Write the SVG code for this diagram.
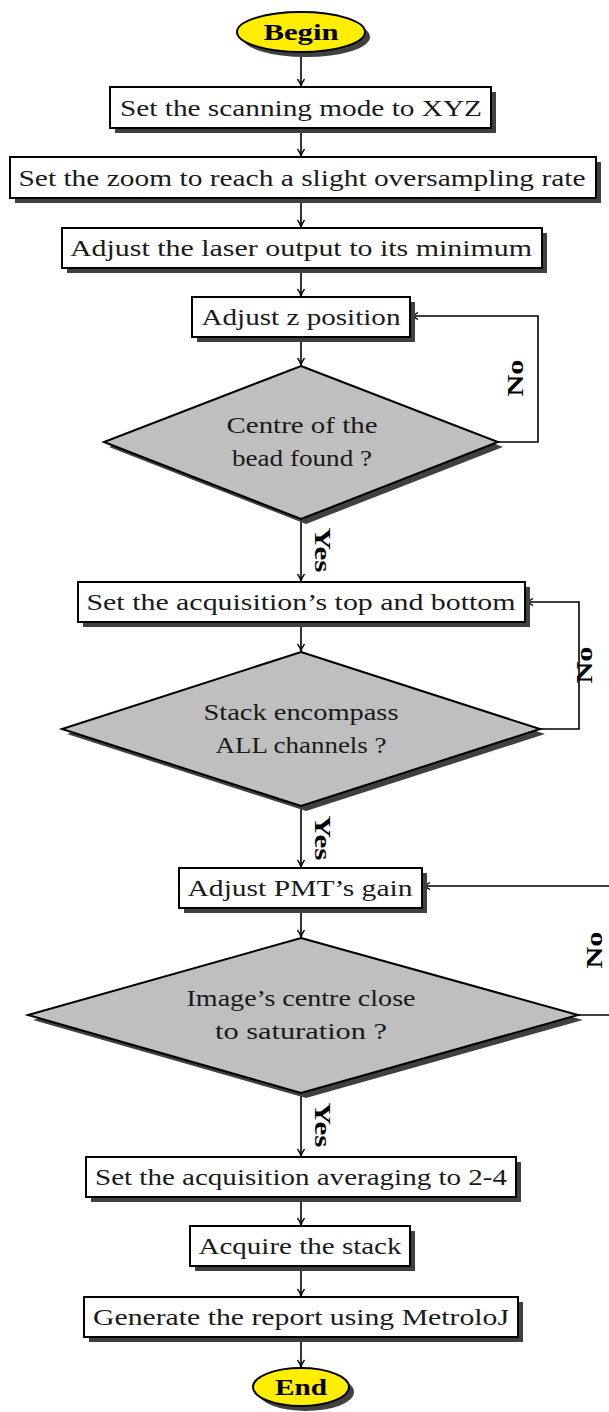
<svg xmlns="http://www.w3.org/2000/svg" width="609" height="1412" viewBox="0 0 609 1412">
<defs>
<marker id="arr" viewBox="-9 -5 10 10" refX="0" refY="0" markerWidth="10" markerHeight="10" markerUnits="userSpaceOnUse" orient="auto">
<path d="M -7 -3.5 Q -3 -0.6 0 0 Q -3 0.6 -7 3.5" fill="none" stroke="#000" stroke-width="1.3"/>
</marker>
</defs>
<style>
.box{fill:#fff;stroke:#000;stroke-width:2}
.sh{fill:#404040}
.dia{fill:#bfbfbf;stroke:#000;stroke-width:2}
.ell{fill:#ffee00;stroke:#000;stroke-width:2}
.t{font-family:"Liberation Serif",serif;font-size:24px;fill:#1a1a1a;text-anchor:middle}
.b{font-family:"Liberation Serif",serif;font-size:24px;font-weight:bold;fill:#000;text-anchor:middle}
.c{fill:none;stroke:#000;stroke-width:1.6;marker-end:url(#arr)}
.l{fill:none;stroke:#000;stroke-width:1.6}
</style>
<rect width="609" height="1412" fill="#fff"/>

<g id="connectors">
<line class="c" x1="301" y1="52" x2="301" y2="86"/>
<line class="c" x1="301" y1="128" x2="301" y2="156"/>
<line class="c" x1="301" y1="198" x2="301" y2="227"/>
<line class="c" x1="301" y1="268" x2="301" y2="296"/>
<line class="c" x1="301" y1="337" x2="301" y2="365"/>
<line class="c" x1="301" y1="519" x2="301" y2="581"/>
<line class="c" x1="301" y1="622" x2="301" y2="651"/>
<line class="c" x1="301" y1="806" x2="301" y2="867"/>
<line class="c" x1="301" y1="908" x2="301" y2="937"/>
<line class="c" x1="301" y1="1093" x2="301" y2="1156"/>
<line class="c" x1="301" y1="1197" x2="301" y2="1225"/>
<line class="c" x1="301" y1="1266" x2="301" y2="1296"/>
<line class="c" x1="301" y1="1337" x2="301" y2="1367"/>
<polyline class="c" points="498,442 538,442 538,316 411,316"/>
<polyline class="c" points="540,729 579,729 579,602 526,602"/>
<polyline class="l" points="578,1015 620,1015"/>
<polyline class="c" points="620,886 423,886"/>
<text class="b" transform="translate(523,378) rotate(-90)" textLength="37" lengthAdjust="spacingAndGlyphs">No</text>
<text class="b" transform="translate(592,665) rotate(-90)" textLength="37" lengthAdjust="spacingAndGlyphs">No</text>
<text class="b" transform="translate(602,950) rotate(-90)" textLength="37" lengthAdjust="spacingAndGlyphs">No</text>
<text class="b" transform="translate(315,550) rotate(90)" textLength="45" lengthAdjust="spacingAndGlyphs">Yes</text>
<text class="b" transform="translate(315,838) rotate(90)" textLength="45" lengthAdjust="spacingAndGlyphs">Yes</text>
<text class="b" transform="translate(315,1125) rotate(90)" textLength="45" lengthAdjust="spacingAndGlyphs">Yes</text>
</g>

<g id="begin">
<ellipse class="sh" cx="306" cy="37" rx="64" ry="20"/>
<ellipse class="ell" cx="301" cy="32" rx="64" ry="20"/>
<text class="b" x="301" y="40" textLength="75" lengthAdjust="spacingAndGlyphs">Begin</text>
</g>

<g id="n1">
<rect class="sh" x="115" y="92" width="381" height="41"/>
<rect class="box" x="110" y="87" width="381" height="41"/>
<text class="t" x="301" y="116" textLength="362" lengthAdjust="spacingAndGlyphs">Set the scanning mode to XYZ</text>
</g>

<g id="n2">
<rect class="sh" x="15" y="162" width="586" height="41"/>
<rect class="box" x="10" y="157" width="586" height="41"/>
<text class="t" x="302" y="186" textLength="567" lengthAdjust="spacingAndGlyphs">Set the zoom to reach a slight oversampling rate</text>
</g>

<g id="n3">
<rect class="sh" x="67" y="233" width="480" height="40"/>
<rect class="box" x="62" y="228" width="480" height="40"/>
<text class="t" x="301" y="256" textLength="462" lengthAdjust="spacingAndGlyphs">Adjust the laser output to its minimum</text>
</g>

<g id="n4">
<rect class="sh" x="197" y="302" width="218" height="40"/>
<rect class="box" x="192" y="297" width="218" height="40"/>
<text class="t" x="301" y="325" textLength="199" lengthAdjust="spacingAndGlyphs">Adjust z position</text>
</g>

<g id="d1">
<polygon class="sh" points="306,371 503,447 306,524 109,447"/>
<polygon class="dia" points="301,366 498,442 301,519 104,442"/>
<text class="t" x="302" y="433" textLength="151" lengthAdjust="spacingAndGlyphs">Centre of the</text>
<text class="t" x="302" y="466" textLength="140" lengthAdjust="spacingAndGlyphs">bead found ?</text>
</g>

<g id="n5">
<rect class="sh" x="83" y="587" width="447" height="40"/>
<rect class="box" x="78" y="582" width="447" height="40"/>
<text class="t" x="301" y="610" textLength="429" lengthAdjust="spacingAndGlyphs">Set the acquisition’s top and bottom</text>
</g>

<g id="d2">
<polygon class="sh" points="306,657 545,734 306,811 67,734"/>
<polygon class="dia" points="301,652 540,729 301,806 62,729"/>
<text class="t" x="301" y="720" textLength="195" lengthAdjust="spacingAndGlyphs">Stack encompass</text>
<text class="t" x="301" y="753" textLength="171" lengthAdjust="spacingAndGlyphs">ALL channels ?</text>
</g>

<g id="n6">
<rect class="sh" x="184" y="873" width="243" height="40"/>
<rect class="box" x="179" y="868" width="243" height="40"/>
<text class="t" x="300" y="896" textLength="225" lengthAdjust="spacingAndGlyphs">Adjust PMT’s gain</text>
</g>

<g id="d3">
<polygon class="sh" points="306,943 583,1020 306,1098 33,1020"/>
<polygon class="dia" points="301,938 578,1015 301,1093 28,1015"/>
<text class="t" x="301" y="1006" textLength="229" lengthAdjust="spacingAndGlyphs">Image’s centre close</text>
<text class="t" x="301" y="1039" textLength="172" lengthAdjust="spacingAndGlyphs">to saturation ?</text>
</g>

<g id="n7">
<rect class="sh" x="91" y="1162" width="430" height="40"/>
<rect class="box" x="86" y="1157" width="430" height="40"/>
<text class="t" x="301" y="1185" textLength="412" lengthAdjust="spacingAndGlyphs">Set the acquisition averaging to 2-4</text>
</g>

<g id="n8">
<rect class="sh" x="195" y="1231" width="220" height="40"/>
<rect class="box" x="190" y="1226" width="220" height="40"/>
<text class="t" x="300" y="1254" textLength="203" lengthAdjust="spacingAndGlyphs">Acquire the stack</text>
</g>

<g id="n9">
<rect class="sh" x="89" y="1302" width="434" height="40"/>
<rect class="box" x="84" y="1297" width="434" height="40"/>
<text class="t" x="301" y="1325" textLength="416" lengthAdjust="spacingAndGlyphs">Generate the report using MetroloJ</text>
</g>

<g id="end">
<ellipse class="sh" cx="306" cy="1392" rx="48" ry="19"/>
<ellipse class="ell" cx="301" cy="1387" rx="48" ry="19"/>
<text class="b" x="301" y="1395" textLength="52" lengthAdjust="spacingAndGlyphs">End</text>
</g>
</svg>
